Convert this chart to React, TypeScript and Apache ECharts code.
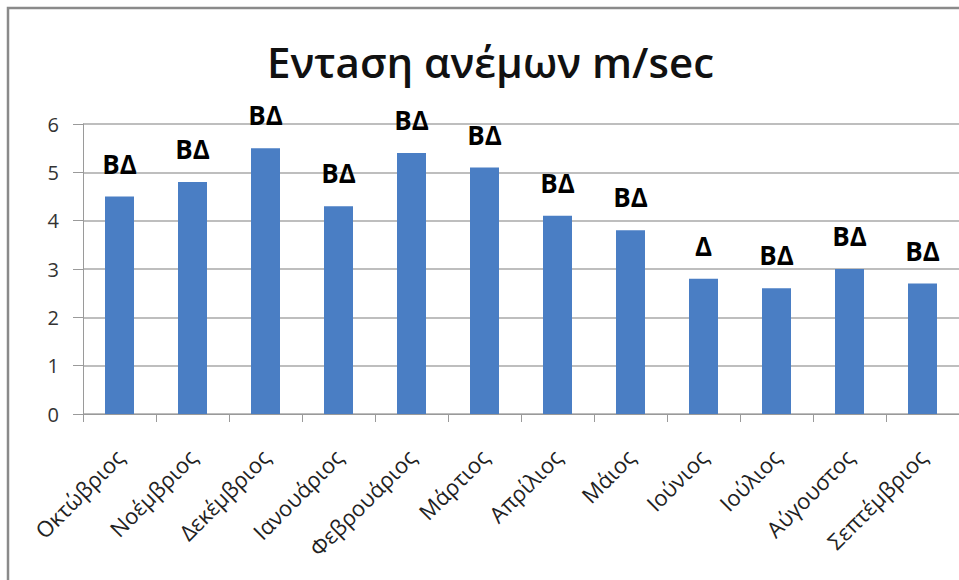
import React, { useEffect, useRef } from "react";
import * as echarts from "echarts";

const months = [
  "Οκτώβριος", "Νοέμβριος", "Δεκέμβριος", "Ιανουάριος", "Φεβρουάριος", "Μάρτιος",
  "Απρίλιος", "Μάιος", "Ιούνιος", "Ιούλιος", "Αύγουστος", "Σεπτέμβριος",
];
const windSpeed = [4.5, 4.8, 5.5, 4.3, 5.4, 5.1, 4.1, 3.8, 2.8, 2.6, 3.0, 2.7];
const directions = ["ΒΔ", "ΒΔ", "ΒΔ", "ΒΔ", "ΒΔ", "ΒΔ", "ΒΔ", "ΒΔ", "Δ", "ΒΔ", "ΒΔ", "ΒΔ"];
const titleText = "Εντaση ανέμων m/sec";

const FONT = "'Open Sans', 'Noto Sans', sans-serif";

export default function App() {
  const ref = useRef<HTMLDivElement>(null);
  useEffect(() => {
    document.body.style.margin = "0";
    const chart = echarts.init(ref.current!, null, { renderer: "svg" });
    chart.setOption({
      animation: false,
      backgroundColor: "#ffffff",
      title: {
        text: titleText,
        left: 262,
        top: 35,
        textStyle: { fontFamily: FONT, fontSize: 42, fontWeight: 600, color: "#111" },
      },
      graphic: [
        {
          type: "polyline",
          shape: { points: [[8, 580], [8, 8], [959, 8]] },
          style: { stroke: "#8a8a8a", lineWidth: 2.5, fill: "none" },
        },
      ],
      grid: { left: 83, right: -8, top: 124, bottom: 166, containLabel: false },
      xAxis: {
        type: "category",
        data: months,
        axisLine: { lineStyle: { color: "#9a9a9a" } },
        axisTick: { show: true, length: 8, alignWithLabel: false, lineStyle: { color: "#9a9a9a" } },
        axisLabel: {
          rotate: 45,
          interval: 0,
          margin: 39,
          fontFamily: FONT,
          fontSize: 22,
          color: "#222",
        },
      },
      yAxis: {
        type: "value",
        min: 0,
        max: 6,
        interval: 1,
        axisLine: { show: true, lineStyle: { color: "#9a9a9a" } },
        axisTick: { show: true, length: 10, lineStyle: { color: "#9a9a9a" } },
        axisLabel: { margin: 24, fontFamily: FONT, fontSize: 20, color: "#333" },
        splitLine: { lineStyle: { color: "#a8a8a8", width: 1.5 } },
      },
      series: [
        {
          type: "bar",
          data: windSpeed,
          barWidth: 29,
          itemStyle: { color: "#4A7EC4" },
          label: {
            show: true,
            position: "top",
            distance: 20,
            formatter: (p: any) => directions[p.dataIndex],
            fontFamily: FONT,
            fontSize: 26,
            fontWeight: "bold",
            color: "#000",
          },
        },
      ],
    });
    return () => chart.dispose();
  }, []);
  return <div ref={ref} style={{ width: 959, height: 580 }} />;
}
